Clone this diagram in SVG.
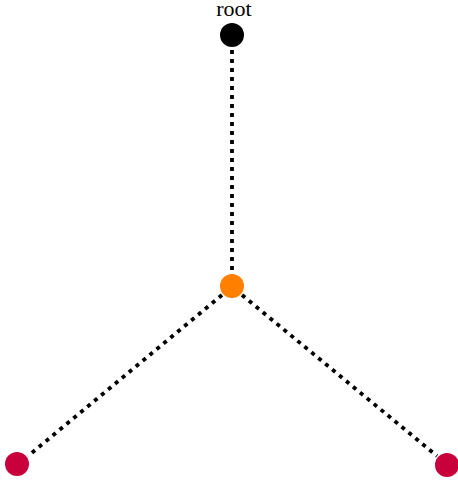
<svg xmlns="http://www.w3.org/2000/svg" width="458" height="484" viewBox="0 0 458 484">
<style>
.e{stroke:#000;stroke-width:3.8;stroke-dasharray:4 5;fill:none}
.lbl{font-family:"Liberation Serif",serif;font-size:22px;fill:#000;text-anchor:middle}
</style>
<rect width="458" height="484" fill="#fff"/>
<g id="connectors">
<line class="e" x1="232" y1="50" x2="232" y2="272"/>
<line class="e" x1="222" y1="295" x2="28" y2="456"/>
<line class="e" x1="242" y1="295" x2="437" y2="456"/>
</g>
<g id="root"><circle cx="232" cy="35" r="12" fill="#000"/><text class="lbl" x="234" y="16">root</text></g>
<g id="mid"><circle cx="232" cy="286" r="12" fill="#ff8000"/></g>
<g id="leafL"><circle cx="17" cy="464" r="12" fill="#c8003c"/></g>
<g id="leafR"><circle cx="447" cy="465" r="12" fill="#c8003c"/></g>
</svg>
